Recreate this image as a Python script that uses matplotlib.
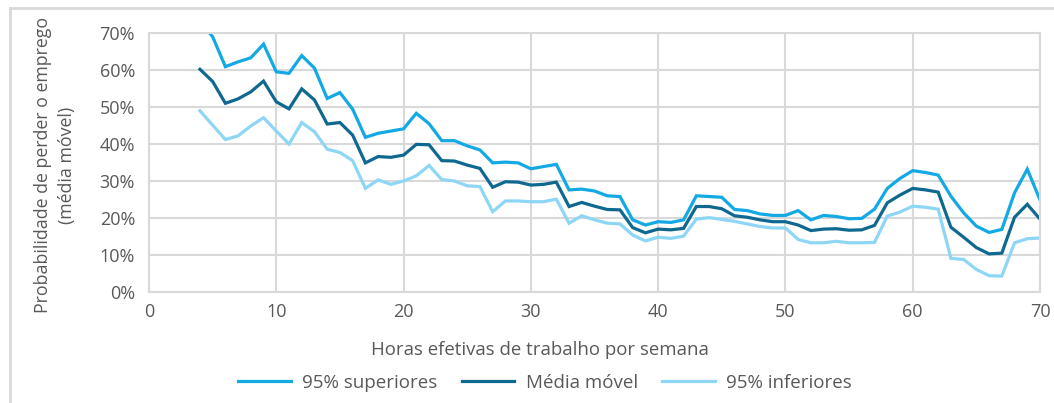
import matplotlib.pyplot as plt
from matplotlib.lines import Line2D

plt.rcParams['font.family'] = ['Open Sans', 'DejaVu Sans']

horas = list(range(4, 71))
superiores = [73, 69, 60.9, 62.2, 63.3, 67, 59.5, 59.1, 63.9, 60.5, 52.3, 53.9, 49.4, 41.8, 42.9, 43.5, 44.1, 48.3,
              45.5, 40.9, 40.9, 39.5, 38.4, 34.9, 35.1, 34.9, 33.3, 33.9, 34.5, 27.6, 27.8, 27.3, 26, 25.8,
              19.5, 18.1, 19, 18.8, 19.5, 26, 25.8, 25.6, 22.3, 22, 21.1, 20.7, 20.7, 22, 19.5, 20.7, 20.4,
              19.8, 19.9, 22.4, 28, 30.7, 32.8, 32.3, 31.6, 25.9, 21.4, 17.8, 16.1, 16.9, 26.8, 33.2, 24.9]
media = [60.2, 56.9, 51, 52.2, 54.1, 57, 51.4, 49.5, 54.9, 51.9, 45.4, 45.8, 42.4, 34.9, 36.6, 36.4, 37, 39.9,
         39.8, 35.5, 35.4, 34.3, 33.4, 28.3, 29.8, 29.7, 28.9, 29.1, 29.7, 23.1, 24.2, 23.2, 22.3, 22.2,
         17.4, 16, 17, 16.8, 17.2, 23.1, 23.1, 22.5, 20.6, 20.2, 19.5, 19, 19, 18.1, 16.6, 17, 17.1,
         16.7, 16.8, 18, 24.1, 26.2, 28, 27.6, 27, 17.5, 14.8, 12, 10.3, 10.5, 20.2, 23.7, 19.7]
inferiores = [49, 45.1, 41.2, 42.2, 44.9, 47.1, 43.5, 40, 45.8, 43.3, 38.6, 37.7, 35.5, 28, 30.3, 29.1, 30, 31.4,
              34.2, 30.4, 30, 28.7, 28.5, 21.7, 24.6, 24.6, 24.4, 24.4, 25.1, 18.6, 20.6, 19.5, 18.6, 18.4,
              15.4, 13.8, 14.8, 14.5, 15.1, 19.7, 20.1, 19.6, 19.1, 18.4, 17.7, 17.3, 17.3, 14.2, 13.3, 13.3, 13.7,
              13.3, 13.3, 13.4, 20.5, 21.6, 23.2, 22.9, 22.4, 9.1, 8.8, 6.1, 4.4, 4.3, 13.3, 14.4, 14.6]
nomes = ['95% superiores', 'Média móvel', '95% inferiores']
cores = ['#13A9E4', '#0F6890', '#8DD6F6']

cinza = '#595959'
fig = plt.figure(figsize=(10.54, 4.03), dpi=100)
ax = fig.add_axes([149 / 1054, 1 - 292 / 403, (1040 - 149) / 1054, (292 - 33) / 403])

for serie, cor in zip([superiores, media, inferiores], cores):
    ax.plot(horas, serie, color=cor, lw=2.3, solid_joinstyle='miter')

ax.set_xlim(0, 70)
ax.set_ylim(0, 70)
ax.set_xticks(range(0, 71, 10))
ax.set_yticks(range(0, 71, 10))
ax.set_yticklabels([f'{v}%' for v in range(0, 71, 10)])
ax.grid(color='#D9D9D9', lw=1.5)
ax.set_axisbelow(True)
for s in ax.spines.values():
    s.set_color('#D9D9D9')
    s.set_linewidth(1.5)
ax.tick_params(length=0, labelsize=13, labelcolor=cinza)
ax.tick_params(axis='y', pad=10)
ax.tick_params(axis='x', pad=8)

fig.text(540 / 1054, 1 - 350 / 403, 'Horas efetivas de trabalho por semana', ha='center', va='center',
         fontsize=13.4, color=cinza)
fig.text(55 / 1054, 1 - 165 / 403, 'Probabilidade de perder o emprego\n(média móvel)', ha='center',
         va='center', rotation=90, fontsize=12.8, color=cinza, linespacing=1.45)

handles = [Line2D([], [], color=c, lw=2.3) for c in cores]
fig.legend(handles, nomes, loc='center', bbox_to_anchor=(545 / 1054, 1 - 383 / 403), ncol=3, frameon=False,
           fontsize=13.5, labelcolor=cinza, handlelength=2.8, columnspacing=1.3, handletextpad=0.6)

# moldura do gráfico (só topo e esquerda visíveis)
fig.add_artist(Line2D([10 / 1054, 1], [1 - 8 / 403] * 2, color='#D9D9D9', lw=2))
fig.add_artist(Line2D([10 / 1054] * 2, [0, 1 - 8 / 403], color='#D9D9D9', lw=2))

fig.savefig('out.png', dpi=100)
